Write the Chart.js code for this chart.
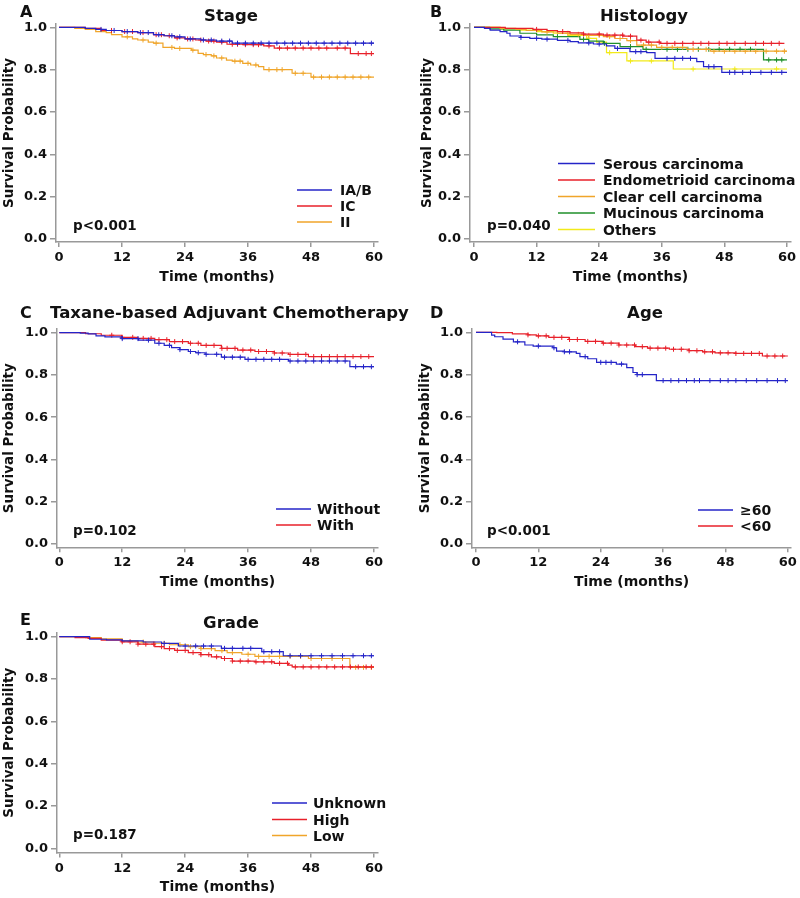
<!DOCTYPE html>
<html lang="en">
<head>
<meta charset="UTF-8">
<title>Kaplan-Meier survival curves</title>
<script src="https://cdn.jsdelivr.net/npm/chart.js"></script>
<style>
  body { margin: 0; background: #ffffff; }
  #fig { position: relative; width: 800px; height: 898px; overflow: hidden; }
  #fig canvas { position: absolute; }
</style>
</head>
<body>
<div id="fig">
  <canvas id="panelA"></canvas>
  <canvas id="panelB"></canvas>
  <canvas id="panelC"></canvas>
  <canvas id="panelD"></canvas>
  <canvas id="panelE"></canvas>
</div>
<script>
// ---- shared axes ----
const monthTicks = [0, 12, 24, 36, 48, 60];
const probTicks = [0, 0.2, 0.4, 0.6, 0.8, 1.0];

// ---- A: Stage ----
const stageGroups = ['IA/B', 'IC', 'II'];
const stageP = 'p<0.001';
const stageIABTime = [0, 5, 7, 9, 12, 15, 18, 20, 22, 24, 27, 30, 33, 60];
const stageIABSurv = [1, 0.995, 0.99, 0.985, 0.98, 0.975, 0.965, 0.96, 0.955, 0.945, 0.94, 0.935, 0.925, 0.925];
const stageIABCens = [8, 10.5, 13, 15.5, 17, 19, 21.5, 23, 25, 27.5, 29, 31, 32.5, 34, 35.5, 37, 38.5, 40, 41.5, 43, 44.5, 46, 47.5, 49, 50.5, 52, 53.5, 55, 56.5, 58, 59.5];
const stageICTime = [0, 5, 8, 12, 15, 18, 20, 22, 24, 26, 28, 30, 32, 35, 39, 41, 55.5, 60];
const stageICSurv = [1, 0.995, 0.985, 0.98, 0.975, 0.965, 0.96, 0.95, 0.945, 0.94, 0.935, 0.93, 0.92, 0.918, 0.912, 0.902, 0.876, 0.876];
const stageICCens = [10, 12.5, 14, 16, 18.5, 19.5, 21, 22.5, 24.5, 25.5, 27, 28.5, 29.5, 31, 33, 34, 35.5, 37, 38, 40, 42, 43.5, 45, 46.5, 48, 49.5, 51, 53, 54.5, 57, 58.5, 59.5];
const stageIITime = [0, 3, 5, 7, 9, 10, 12, 14, 15, 17, 18, 19.8, 22, 25.2, 26.5, 27.5, 29, 30, 31.9, 33, 35, 36.5, 38, 39, 44.4, 48, 60];
const stageIISurv = [1, 0.995, 0.99, 0.98, 0.975, 0.965, 0.955, 0.945, 0.94, 0.93, 0.925, 0.905, 0.9, 0.892, 0.877, 0.871, 0.865, 0.855, 0.845, 0.84, 0.83, 0.822, 0.814, 0.8, 0.783, 0.765, 0.765];
const stageIICens = [13, 16, 18.5, 21.5, 23, 25.5, 28, 29.5, 31, 33.5, 34.5, 36, 37.5, 40, 41.5, 42.5, 45, 46.5, 48.5, 50, 51.5, 53, 54.5, 56, 57.5, 59];

// ---- B: Histology ----
const histGroups = ['Serous carcinoma', 'Endometrioid carcinoma', 'Clear cell carcinoma', 'Mucinous carcinoma', 'Others'];
const histP = 'p=0.040';
const serousTime = [0, 2, 3.1, 5, 6.3, 6.9, 9, 10.7, 13, 16, 18.4, 20, 22.9, 25.4, 27, 29.9, 33.1, 34.7, 42.7, 44, 47.5, 60];
const serousSurv = [1, 0.995, 0.987, 0.98, 0.972, 0.959, 0.952, 0.948, 0.944, 0.938, 0.932, 0.926, 0.921, 0.912, 0.9, 0.885, 0.88, 0.853, 0.838, 0.814, 0.787, 0.787];
const serousCens = [9, 12, 14, 18, 22, 24, 27.5, 31, 32, 37, 38.5, 40, 41.5, 45, 46, 49, 50, 51.5, 53, 55, 57, 59];
const endoTime = [0, 6, 11.3, 14, 16, 18.4, 21, 24.8, 28.6, 31.2, 33, 35.7, 59.5];
const endoSurv = [1, 0.995, 0.99, 0.985, 0.98, 0.974, 0.968, 0.963, 0.958, 0.939, 0.93, 0.924, 0.924];
const endoCens = [12, 17, 21, 24, 25.5, 27, 28.5, 30, 32, 33.5, 35.5, 37, 38.5, 40, 42, 43.5, 45, 47, 48.5, 50, 52, 54, 55.5, 57, 58.5];
const clearTime = [0, 5, 8, 10, 13, 16, 18.4, 21, 24.8, 27, 29.3, 31.2, 35, 40.8, 45.3, 60];
const clearSurv = [1, 0.995, 0.99, 0.985, 0.978, 0.972, 0.967, 0.962, 0.956, 0.947, 0.937, 0.916, 0.905, 0.896, 0.887, 0.887];
const clearCens = [14, 18, 20, 22, 24, 26, 28, 30, 32.5, 34, 36, 38, 40, 42, 44.5, 46, 48, 50, 52, 54, 56, 58, 59.5];
const mucTime = [0, 3, 5.7, 8.8, 12, 15.2, 20.3, 22, 24.8, 28, 32.4, 55.5, 60];
const mucSurv = [1, 0.993, 0.987, 0.972, 0.964, 0.956, 0.943, 0.935, 0.924, 0.909, 0.896, 0.846, 0.846];
const mucCens = [16, 21, 25, 30, 33, 37, 39, 41, 43, 45, 47, 49, 51, 53, 56.5, 58, 59];
const otherTime = [0, 5, 8.8, 12, 15.2, 18, 21.6, 23.5, 25.4, 29.3, 38.2, 60];
const otherSurv = [1, 0.993, 0.987, 0.98, 0.972, 0.962, 0.948, 0.93, 0.88, 0.841, 0.803, 0.803];
const otherCens = [22, 26, 30, 34, 42, 50, 58];

// ---- C: Taxane-based adjuvant chemotherapy ----
const taxGroups = ['Without', 'With'];
const taxP = 'p=0.102';
const withoutTime = [0, 4, 5.5, 7, 8.7, 12, 15.1, 18.2, 20, 21.4, 23, 24.6, 26, 27.8, 30.9, 35.4, 43.7, 55.4, 60];
const withoutSurv = [1, 0.998, 0.994, 0.985, 0.98, 0.972, 0.965, 0.95, 0.94, 0.929, 0.92, 0.911, 0.905, 0.898, 0.884, 0.874, 0.866, 0.839, 0.839];
const withoutCens = [12, 15, 17, 19, 21, 23, 25, 26.5, 28, 30, 31.5, 33, 34.5, 36, 37.5, 39, 40.5, 42, 44, 45.5, 47, 48.5, 50, 51.5, 53, 54.5, 56.5, 58, 59.5];
const withTime = [0, 5, 8, 11.9, 15, 18.2, 21, 24.6, 27, 30.9, 34, 37.3, 41, 43.7, 47.5, 60];
const withSurv = [1, 0.995, 0.988, 0.978, 0.973, 0.967, 0.958, 0.95, 0.94, 0.926, 0.918, 0.911, 0.904, 0.897, 0.887, 0.887];
const withCens = [10, 12, 14, 16, 17.5, 19, 20.5, 22, 23.5, 25, 26.5, 28, 29.5, 31, 32, 33.5, 35, 36.5, 38, 39.5, 41, 42.5, 44, 45.5, 47, 48.5, 50, 51.5, 53, 54.5, 56, 57.5, 59];

// ---- D: Age ----
const ageGroups = ['\u226560', '<60'];
const ageP = 'p<0.001';
const oldTime = [0, 3, 3.6, 5.2, 7.2, 9.4, 11, 14.8, 15.5, 17, 19.3, 20, 21.5, 23.2, 27, 29, 30.2, 31, 34.7, 60];
const oldSurv = [1, 0.987, 0.979, 0.968, 0.955, 0.94, 0.935, 0.927, 0.911, 0.908, 0.9, 0.885, 0.875, 0.858, 0.85, 0.833, 0.81, 0.8, 0.772, 0.772];
const oldCens = [8, 12, 15, 17, 18, 21, 24, 25, 26, 28, 31, 32, 36, 37.5, 39, 40.5, 42, 43, 45, 47, 48.5, 50, 52, 54, 56, 58, 59.5];
const youngTime = [0, 4, 7, 10, 11.6, 14, 17.9, 21, 24.3, 27.5, 30.7, 33, 37.2, 41, 43.6, 46, 50, 55.1, 60];
const youngSurv = [1, 0.998, 0.993, 0.988, 0.983, 0.976, 0.966, 0.957, 0.949, 0.94, 0.932, 0.925, 0.92, 0.913, 0.908, 0.903, 0.9, 0.888, 0.888];
const youngCens = [10, 12, 13.5, 15, 16.5, 18, 19.5, 21.5, 23, 24.5, 26, 27.5, 29, 30.5, 32, 33.5, 35, 36.5, 38, 39.5, 41, 42.5, 44, 45.5, 47, 48.5, 50, 51.5, 53, 54.5, 56, 57.5, 59];

// ---- E: Grade ----
const gradeGroups = ['Unknown', 'High', 'Low'];
const gradeP = 'p=0.187';
const unkTime = [0, 5.8, 9, 12, 16, 19.5, 22.7, 30.9, 38.6, 42.7, 60];
const unkSurv = [1, 0.988, 0.985, 0.98, 0.975, 0.968, 0.956, 0.945, 0.929, 0.91, 0.91];
const unkCens = [20, 24, 26, 27.5, 29, 31.5, 33, 35, 36.5, 39, 40.5, 42, 44, 46, 48, 50, 52, 54, 56, 58, 59.5];
const highTime = [0, 3, 5.5, 8, 11.9, 15, 18.2, 20, 22, 24.6, 27, 29, 30.9, 33, 37.3, 41, 43.7, 44.4, 60];
const highSurv = [1, 0.996, 0.992, 0.984, 0.976, 0.965, 0.953, 0.944, 0.935, 0.925, 0.915, 0.905, 0.897, 0.885, 0.881, 0.874, 0.866, 0.857, 0.857];
const highCens = [12, 13.5, 15, 16.5, 18, 19.5, 21, 22.5, 24, 25.5, 27, 28.5, 30, 31.5, 33, 34.5, 36, 37.5, 39, 40.5, 42, 43.5, 45, 46.5, 48, 49.5, 51, 52.5, 54, 55.5, 57, 58.5, 59.5];
const lowTime = [0, 5, 8, 12, 15, 18.2, 21, 24.6, 27, 29.7, 32, 34.8, 37.3, 47.5, 55.4, 60];
const lowSurv = [1, 0.996, 0.99, 0.98, 0.975, 0.969, 0.962, 0.953, 0.944, 0.934, 0.925, 0.917, 0.907, 0.897, 0.855, 0.855];
const lowCens = [16, 20, 23, 25, 27, 29, 31, 33, 36, 38, 40, 42, 44, 46, 48, 50, 52, 54, 56.5, 58, 59.5];

// ---- styling ----
const FONT = 'DejaVu Sans';
const INK = '#111111';
const AXIS = '#999999';
const BLUE = '#2424c8', RED = '#e8202a', ORANGE = '#f0a52a', GREEN = '#1f8f2a', YELLOW = '#f2ea1a';

Chart.defaults.font.family = FONT;
Chart.defaults.font.weight = 'bold';

// page-pixel layout for each panel
const panels = [
  {
    canvas: 'panelA', box: {left: 0, top: 0, width: 400, height: 288},
    frame: {x0: 59, x60: 374, axL: 56, axR: 378, y1: 27.3, y0: 239, axB: 242, axT: 24, yTitleX: 9},
    letter: ['A', 20, 17], title: ['Stage', 231, 20.7, 'center'], pText: [stageP, 73, 230],
    legend: {x1: 297, x2: 332, tx: 340, ys: [190, 206, 222]},
    groups: stageGroups, colors: [BLUE, RED, ORANGE],
    curves: [[stageIABTime, stageIABSurv, stageIABCens], [stageICTime, stageICSurv, stageICCens], [stageIITime, stageIISurv, stageIICens]]
  },
  {
    canvas: 'panelB', box: {left: 400, top: 0, width: 400, height: 288},
    frame: {x0: 474, x60: 787, axL: 470, axR: 791, y1: 27.3, y0: 239, axB: 242, axT: 24, yTitleX: 427},
    letter: ['B', 430, 17], title: ['Histology', 644, 20.7, 'center'], pText: [histP, 487, 229.5],
    legend: {x1: 558, x2: 595, tx: 603, ys: [163.5, 180, 196.5, 213, 229.5]},
    groups: histGroups, colors: [BLUE, RED, ORANGE, GREEN, YELLOW],
    curves: [[serousTime, serousSurv, serousCens], [endoTime, endoSurv, endoCens], [clearTime, clearSurv, clearCens], [mucTime, mucSurv, mucCens], [otherTime, otherSurv, otherCens]]
  },
  {
    canvas: 'panelC', box: {left: 0, top: 295, width: 430, height: 298},
    frame: {x0: 59.3, x60: 374, axL: 57, axR: 378, y1: 332.7, y0: 544, axB: 547.3, axT: 329, yTitleX: 9},
    letter: ['C', 20, 318], title: ['Taxane-based Adjuvant Chemotherapy', 50, 318.3, 'left'], pText: [taxP, 73, 534.5],
    legend: {x1: 276, x2: 311, tx: 317, ys: [509, 525]},
    groups: taxGroups, colors: [BLUE, RED],
    curves: [[withoutTime, withoutSurv, withoutCens], [withTime, withSurv, withCens]]
  },
  {
    canvas: 'panelD', box: {left: 400, top: 295, width: 400, height: 298},
    frame: {x0: 476, x60: 788.7, axL: 472, axR: 792, y1: 332.3, y0: 544, axB: 547.3, axT: 329, yTitleX: 425},
    letter: ['D', 430, 318], title: ['Age', 645, 318.3, 'center'], pText: [ageP, 487, 535],
    legend: {x1: 698, x2: 733, tx: 740, ys: [510, 526]},
    groups: ageGroups, colors: [BLUE, RED],
    curves: [[oldTime, oldSurv, oldCens], [youngTime, youngSurv, youngCens]]
  },
  {
    canvas: 'panelE', box: {left: 0, top: 600, width: 400, height: 298},
    frame: {x0: 59.3, x60: 374, axL: 57, axR: 378, y1: 636.7, y0: 848.3, axB: 852.5, axT: 633, yTitleX: 9},
    letter: ['E', 20, 625], title: ['Grade', 231, 627.5, 'center'], pText: [gradeP, 73, 839],
    legend: {x1: 272, x2: 307, tx: 313, ys: [803, 819.5, 835.5]},
    groups: gradeGroups, colors: [BLUE, RED, ORANGE],
    curves: [[unkTime, unkSurv, unkCens], [highTime, highSurv, highCens], [lowTime, lowSurv, lowCens]]
  }
];

function stepPoints(t, s) {
  return t.map((x, i) => ({x: x, y: s[i]}));
}
// survival value in force at a censoring time (last step at or before it)
function survivalAt(t, s, time) {
  let v = s[0];
  for (let i = 0; i < t.length; i++) if (t[i] <= time) v = s[i];
  return v;
}

function overlayPlugin(p) {
  return {
    id: 'overlay',
    afterDraw(chart) {
      const ctx = chart.ctx, ox = p.box.left, oy = p.box.top;
      ctx.save();
      ctx.fillStyle = INK;
      ctx.textBaseline = 'alphabetic';
      ctx.font = 'bold 16px ' + FONT;
      ctx.textAlign = 'left';
      ctx.fillText(p.letter[0], p.letter[1] - ox, p.letter[2] - oy);
      ctx.font = 'bold 16.5px ' + FONT;
      ctx.textAlign = p.title[3];
      ctx.fillText(p.title[0], p.title[1] - ox, p.title[2] - oy);
      ctx.font = 'bold 13.5px ' + FONT;
      ctx.textAlign = 'left';
      ctx.fillText(p.pText[0], p.pText[1] - ox, p.pText[2] - oy);
      ctx.font = 'bold 14px ' + FONT;
      p.groups.forEach((g, i) => {
        const y = p.legend.ys[i] - oy;
        ctx.strokeStyle = p.colors[i];
        ctx.lineWidth = 1.5;
        ctx.beginPath();
        ctx.moveTo(p.legend.x1 - ox, y);
        ctx.lineTo(p.legend.x2 - ox, y);
        ctx.stroke();
        ctx.fillText(g, p.legend.tx - ox, y + 5);
      });
      ctx.restore();
    }
  };
}

panels.forEach(p => {
  const cv = document.getElementById(p.canvas);
  cv.width = p.box.width;
  cv.height = p.box.height;
  cv.style.left = p.box.left + 'px';
  cv.style.top = p.box.top + 'px';

  const f = p.frame;
  const pxMonth = (f.x60 - f.x0) / 60;
  const pxUnit = f.y0 - f.y1;
  const xMin = -(f.x0 - f.axL) / pxMonth, xMax = 60 + (f.axR - f.x60) / pxMonth;
  const yMin = -(f.axB - f.y0) / pxUnit, yMax = 1 + (f.y1 - f.axT) / pxUnit;
  const padL = f.yTitleX - p.box.left - 8.1;
  const yWidth = f.axL - p.box.left - padL;
  const xHeight = p.box.top + p.box.height - f.axB;

  const datasets = [];
  p.curves.forEach((c, i) => {
    datasets.push({
      data: stepPoints(c[0], c[1]),
      borderColor: p.colors[i], borderWidth: 1.2, stepped: true,
      pointRadius: 0, fill: false
    });
    datasets.push({
      data: c[2].map(t => ({x: t, y: survivalAt(c[0], c[1], t)})),
      borderColor: p.colors[i], backgroundColor: p.colors[i], showLine: false,
      pointStyle: 'cross', pointRadius: 2.5, borderWidth: 1
    });
  });

  new Chart(cv, {
    type: 'line',
    data: {datasets: datasets},
    plugins: [overlayPlugin(p)],
    options: {
      responsive: false,
      animation: false,
      events: [],
      layout: {padding: {left: padL, top: f.axT - p.box.top, right: p.box.left + p.box.width - f.axR, bottom: 0}},
      plugins: {legend: {display: false}, tooltip: {enabled: false}},
      scales: {
        x: {
          type: 'linear', min: xMin, max: xMax,
          afterBuildTicks: s => { s.ticks = monthTicks.map(v => ({value: v})); },
          afterFit: s => { s.height = xHeight; },
          ticks: {color: INK, font: {size: 13, weight: 'bold'}, padding: 3, maxRotation: 0, autoSkip: false},
          grid: {drawOnChartArea: false, drawTicks: true, tickLength: 5, color: AXIS, lineWidth: 1.5},
          border: {color: AXIS, width: 1.5},
          title: {display: true, text: 'Time (months)', color: INK, font: {size: 14, weight: 'bold'}, padding: {top: 0, bottom: 2}}
        },
        y: {
          type: 'linear', min: yMin, max: yMax,
          afterBuildTicks: s => { s.ticks = probTicks.map(v => ({value: v})); },
          afterFit: s => { s.width = yWidth; },
          ticks: {color: INK, font: {size: 13, weight: 'bold'}, padding: 3, callback: v => v.toFixed(1)},
          grid: {drawOnChartArea: false, drawTicks: true, tickLength: 6, color: AXIS, lineWidth: 1.5},
          border: {color: AXIS, width: 1.5},
          title: {display: true, text: 'Survival Probability', color: INK, font: {size: 13.5, weight: 'bold'}, padding: {top: 0, bottom: 0}}
        }
      }
    }
  });
});
</script>
</body>
</html>
